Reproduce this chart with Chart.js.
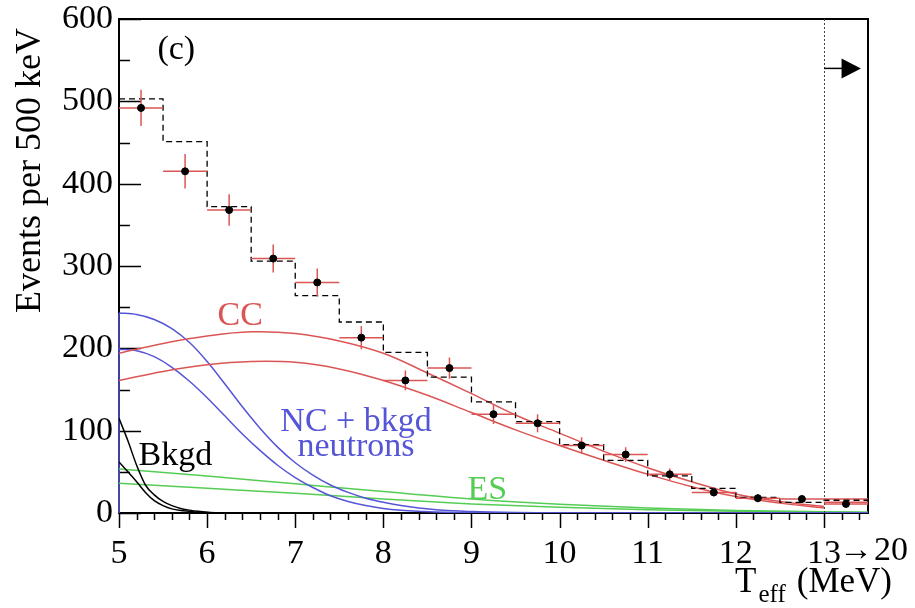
<!DOCTYPE html>
<html>
<head>
<meta charset="utf-8">
<script src="https://cdn.jsdelivr.net/npm/chart.js@4/dist/chart.umd.min.js"></script>
<style>
  html, body { margin: 0; padding: 0; background: #fff; }
  #wrap { width: 915px; height: 608px; }
</style>
</head>
<body>
<div id="wrap"><canvas id="grafica" width="915" height="608"></canvas></div>
<script>
// datos (c)
const binEdges = [5, 5.5, 6, 6.5, 7, 7.5, 8, 8.5, 9, 9.5, 10, 10.5, 11, 11.5, 12, 12.5, 13, 13.5];
const totalFit = [503, 451, 372, 306, 264, 232, 195, 165, 135, 111, 83, 64, 45, 30, 19, 13, 15.5];

const dataX = [5.25, 5.75, 6.25, 6.75, 7.25, 7.75, 8.25, 8.75, 9.25, 9.75, 10.25, 10.75, 11.25, 11.75, 12.25, 12.75, 13.25];
const dataY = [492, 415, 368, 309, 280, 213, 161, 176, 120, 109, 82, 71, 47, 25, 18, 17, 11];
const dataErr = [22, 21, 19, 17, 17, 14, 12, 13, 12, 11, 10, 9, 7, 5, 5, 4, 3];

const ccX = [5, 5.5, 6, 6.5, 7, 7.5, 8, 8.5, 9, 9.5, 10, 10.5, 11, 11.5, 12, 12.5, 13];
const ccUpper = [194, 206, 215, 220, 218, 209, 194, 170, 145, 119, 97, 75, 55, 38, 23, 14, 8];
const ccLower = [161, 172, 180, 184, 183, 175, 161, 143, 122, 101, 82, 64, 47, 32, 20, 12, 6];
const ccLastBin = [13, 13.5];
const ccLastUpper = [17, 17];
const ccLastLower = [13, 13];

const ncX = [5, 5.2, 5.4, 5.6, 5.8, 6, 6.2, 6.4, 6.6, 6.8, 7, 7.2, 7.4, 7.6, 7.8, 8, 8.2, 8.4, 8.6, 8.8, 9, 9.5, 10, 11, 12, 13, 13.5];
const ncUpper = [243, 241, 235, 224, 207, 184, 157, 129, 103, 80, 61, 46, 34, 25, 18, 13, 9, 6, 4, 2.7, 1.7, 0.5, 0, 0, 0, 0, 0];
const ncLower = [199, 197, 190, 177, 160, 140, 118, 96, 76, 58, 43, 31, 21, 14, 9, 5.5, 3.3, 2, 1.2, 0.6, 0.2, 0, 0, 0, 0, 0, 0];

const bkgdX = [5, 5.1, 5.2, 5.3, 5.4, 5.5, 5.6, 5.7, 5.8, 5.9, 6, 6.2];
const bkgdUpper = [115, 88, 58, 34, 22, 14, 9, 5.5, 3.5, 2, 1, 0];
const bkgdLower = [62, 50, 38, 25, 15, 9, 5, 3, 2, 1, 0.5, 0];

const esX = [5, 6, 7, 8, 9, 10, 11, 12, 13, 13.5];
const esUpper = [53.5, 45, 35.5, 26, 17, 10.5, 6, 3, 1.5, 1];
const esLower = [36, 30, 24, 17, 11, 7, 4, 2, 1, 0.5];

const xTickValues = [5, 6, 7, 8, 9, 10, 11, 12, 13];
const xTickLabels = ["5", "6", "7", "8", "9", "10", "11", "12", "13"];

const ROJO = "rgb(220,85,85)";
const AZUL = "rgb(85,85,215)";
const VERDE = "rgb(85,205,85)";
const FUENTE = "'Liberation Serif', 'Times New Roman', serif";

// convierte dos arreglos en puntos {x, y}
function puntos(xs, ys) {
  return xs.map((x, i) => ({ x: x, y: ys[i] }));
}

// histograma escalonado: un punto por borde de bin
function histograma(edges, vals) {
  const pts = vals.map((v, i) => ({ x: edges[i], y: v }));
  pts.push({ x: edges[edges.length - 1], y: vals[vals.length - 1] });
  return pts;
}

function curva(data, color, suave) {
  return {
    type: "line",
    data: data,
    borderColor: color,
    borderWidth: 1.5,
    pointRadius: 0,
    fill: false,
    cubicInterpolationMode: suave ? "default" : "monotone",
    tension: 0.4,
  };
}

// bordes verticales en x = 5 (como en ROOT)
function borde(altura, color) {
  return {
    type: "line",
    data: [{ x: 5, y: 0 }, { x: 5, y: altura }],
    borderColor: color,
    borderWidth: 1.5,
    pointRadius: 0,
    clip: 3,
  };
}

const datasets = [
  {
    type: "scatter",
    label: "Datos",
    data: puntos(dataX, dataY),
    backgroundColor: "#000",
    borderColor: "#000",
    pointRadius: 3.5,
  },
  {
    type: "line",
    label: "Total",
    data: histograma(binEdges, totalFit),
    stepped: "before",
    borderColor: "#000",
    borderWidth: 1.3,
    borderDash: [6, 4],
    pointRadius: 0,
    fill: false,
  },
  curva(puntos(ccX, ccUpper), ROJO, true),
  curva(puntos(ccX, ccLower), ROJO, true),
  curva(puntos(ccLastBin, ccLastUpper), ROJO),
  curva(puntos(ccLastBin, ccLastLower), ROJO),
  curva(puntos(ncX, ncUpper), AZUL),
  curva(puntos(ncX, ncLower), AZUL),
  curva(puntos(bkgdX, bkgdUpper), "#000"),
  curva(puntos(bkgdX, bkgdLower), "#000"),
  curva(puntos(esX, esUpper), VERDE),
  curva(puntos(esX, esLower), VERDE),
  borde(ncUpper[0], AZUL),
  borde(bkgdUpper[0], "#000"),
  borde(esUpper[0], VERDE),
];

// marco, marcas de ejes, barras de error, textos
const decoracion = {
  id: "decoracion",
  beforeDatasetsDraw(chart) {
    const { ctx, chartArea: a, scales } = chart;
    const x = scales.x, y = scales.y;
    ctx.save();
    ctx.strokeStyle = "#000";
    ctx.lineWidth = 2;
    ctx.strokeRect(a.left, a.top, a.right - a.left, a.bottom - a.top);

    ctx.lineWidth = 1.5;
    ctx.beginPath();
    for (let v = 5; v <= 13.5001; v += 0.2) {
      const px = Math.round(x.getPixelForValue(v)) + 0.5;
      const mayor = Math.abs(v - Math.round(v)) < 1e-6;
      ctx.moveTo(px, a.bottom);
      ctx.lineTo(px, a.bottom + (mayor ? 15 : 7));
    }
    for (let v = 0; v <= 600; v += 50) {
      const py = Math.round(y.getPixelForValue(v)) + 0.5;
      ctx.moveTo(a.left, py);
      ctx.lineTo(a.left + (v % 100 === 0 ? 22 : 11), py);
    }
    ctx.stroke();
    ctx.restore();
  },
  beforeDatasetDraw(chart, args) {
    if (args.index !== 0) return;
    const { ctx, scales } = chart;
    const x = scales.x, y = scales.y;
    ctx.save();
    ctx.strokeStyle = ROJO;
    ctx.lineWidth = 1.5;
    ctx.beginPath();
    dataX.forEach((xv, i) => {
      const px = x.getPixelForValue(xv);
      const py = y.getPixelForValue(dataY[i]);
      ctx.moveTo(x.getPixelForValue(xv - 0.25), py);
      ctx.lineTo(x.getPixelForValue(xv + 0.25), py);
      ctx.moveTo(px, y.getPixelForValue(dataY[i] + dataErr[i]));
      ctx.lineTo(px, y.getPixelForValue(dataY[i] - dataErr[i]));
    });
    ctx.stroke();
    ctx.restore();
  },
  afterDraw(chart) {
    const { ctx, chartArea: a, scales } = chart;
    const x = scales.x, y = scales.y;
    ctx.save();

    // linea punteada en 13 MeV
    const x13 = x.getPixelForValue(13);
    ctx.strokeStyle = "#444";
    ctx.lineWidth = 1;
    ctx.setLineDash([2, 2]);
    ctx.beginPath();
    ctx.moveTo(Math.round(x13) + 0.5, a.top);
    ctx.lineTo(Math.round(x13) + 0.5, a.bottom);
    ctx.stroke();
    ctx.setLineDash([]);

    // flecha
    const ya = y.getPixelForValue(540);
    ctx.strokeStyle = "#000";
    ctx.lineWidth = 1.5;
    ctx.beginPath();
    ctx.moveTo(x13, ya);
    ctx.lineTo(x.getPixelForValue(13.25), ya);
    ctx.stroke();
    ctx.fillStyle = "#000";
    ctx.beginPath();
    ctx.moveTo(x.getPixelForValue(13.2), ya - 10);
    ctx.lineTo(x.getPixelForValue(13.42), ya);
    ctx.lineTo(x.getPixelForValue(13.2), ya + 10);
    ctx.closePath();
    ctx.fill();

    // etiquetas dentro del grafico
    ctx.font = "34px " + FUENTE;
    ctx.textAlign = "center";
    ctx.textBaseline = "alphabetic";
    const etiquetas = [
      ["(c)", 5.65, 551, "#000"],
      ["CC", 6.375, 228, ROJO],
      ["NC + bkgd", 7.69, 99, AZUL],
      ["neutrons", 7.69, 69, AZUL],
      ["Bkgd", 5.64, 58, "#000"],
      ["ES", 9.18, 16.5, VERDE],
    ];
    etiquetas.forEach(([t, xv, yv, c]) => {
      ctx.fillStyle = c;
      ctx.fillText(t, x.getPixelForValue(xv), y.getPixelForValue(yv));
    });

    // "→ 20" pegado al 13
    ctx.fillStyle = "#000";
    ctx.textBaseline = "top";
    const w13 = ctx.measureText("13").width;
    ctx.textAlign = "left";
    ctx.fillText("\u2192", x13 + w13 / 2 - 2, a.bottom + 21);
    ctx.textAlign = "right";
    ctx.fillText("20", a.right + 40, a.bottom + 21);

    // titulo eje x: T_eff (MeV)
    ctx.textBaseline = "alphabetic";
    ctx.textAlign = "right";
    const xr = a.right + 24, base = a.bottom + 79;
    ctx.font = "35px " + FUENTE;
    ctx.fillText("(MeV)", xr, base);
    const wMeV = ctx.measureText("(MeV)").width;
    ctx.font = "25px " + FUENTE;
    ctx.fillText("eff", xr - wMeV - 11, base + 10);
    const wEff = ctx.measureText("eff").width;
    ctx.font = "35px " + FUENTE;
    ctx.fillText("T", xr - wMeV - 11 - wEff - 2, base);

    // titulo eje y
    ctx.font = "36px " + FUENTE;
    ctx.translate(40, a.top + 9);
    ctx.rotate(-Math.PI / 2);
    ctx.textAlign = "right";
    ctx.fillText("Events per 500 keV", 0, 0);
    ctx.restore();
  },
};

const config = {
  type: "scatter",
  data: { datasets: datasets },
  options: {
    responsive: false,
    animation: false,
    devicePixelRatio: 1,
    layout: { padding: { top: 19, right: 47, left: 0, bottom: 0 } },
    plugins: { legend: { display: false }, tooltip: { enabled: false } },
    scales: {
      x: {
        type: "linear",
        min: 5,
        max: 13.5,
        grid: { display: false, drawTicks: false },
        border: { display: false },
        afterBuildTicks: (s) => {
          s.ticks = xTickValues.map((v) => ({ value: v }));
        },
        afterFit: (s) => {
          s.height = 95;
          s.paddingLeft = 0;
          s.paddingRight = 0;
        },
        ticks: {
          autoSkip: false,
          maxRotation: 0,
          padding: 21,
          color: "#000",
          font: { family: FUENTE, size: 34 },
          callback: (v) => xTickLabels[xTickValues.indexOf(v)],
        },
      },
      y: {
        min: 0,
        max: 600,
        grid: { display: false, drawTicks: false },
        border: { display: false },
        afterFit: (s) => {
          s.width = 119;
          s.paddingTop = 0;
          s.paddingBottom = 0;
        },
        ticks: {
          stepSize: 100,
          padding: 6,
          color: "#000",
          font: { family: FUENTE, size: 34 },
        },
      },
    },
  },
  plugins: [decoracion],
};

new Chart(document.getElementById("grafica").getContext("2d"), config);
</script>
</body>
</html>
